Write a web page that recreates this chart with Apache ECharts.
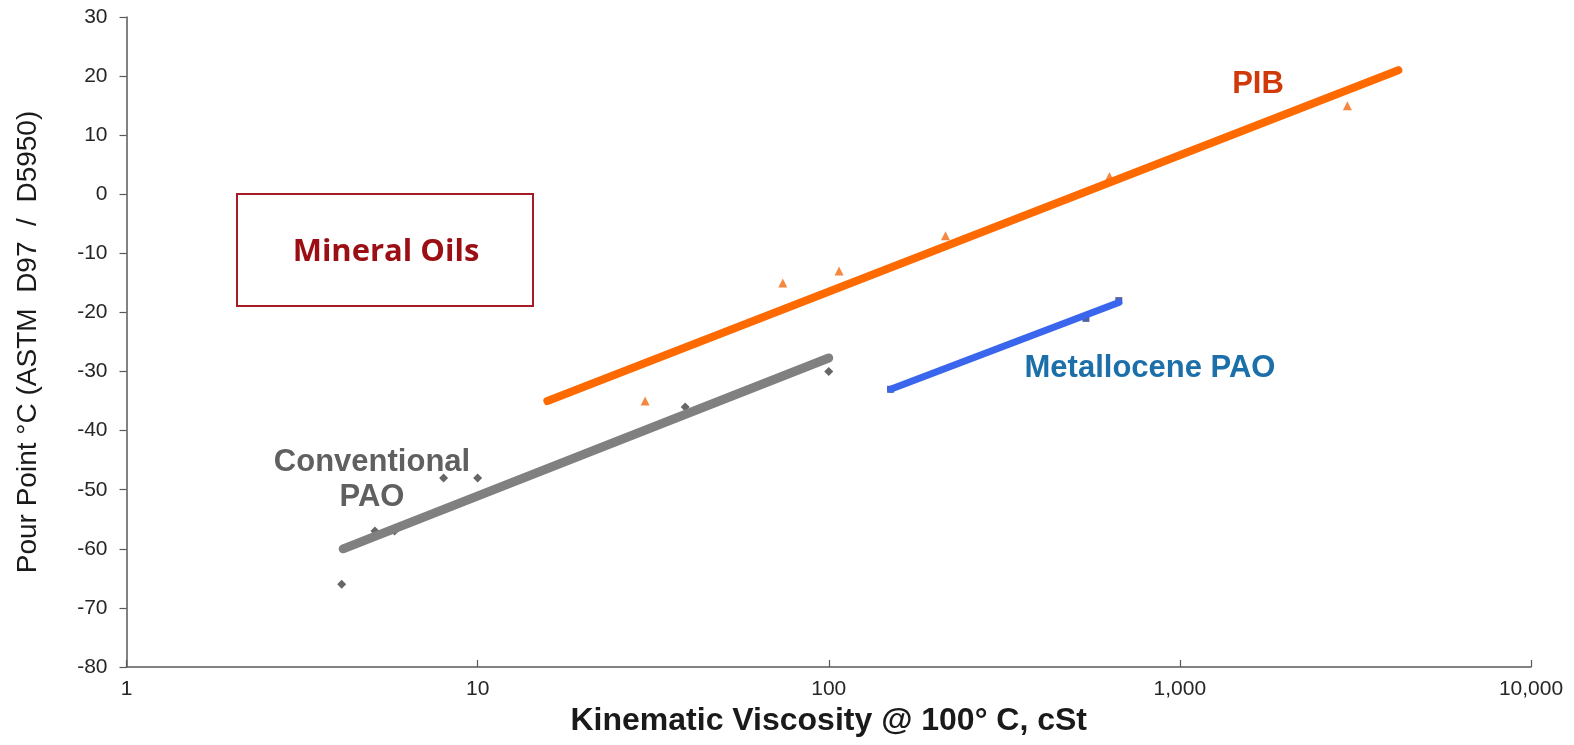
<!DOCTYPE html>
<html>
<head>
<meta charset="utf-8">
<script src="https://cdn.jsdelivr.net/npm/echarts@6/dist/echarts.min.js"></script>
<style>
html,body{margin:0;padding:0;background:#fff;}
#chart{width:1574px;height:745px;}
</style>
</head>
<body>
<div id="chart"></div>
<script>
// Data
const xTicks = [1, 10, 100, 1000, 10000];
const yTicks = [-80, -70, -60, -50, -40, -30, -20, -10, 0, 10, 20, 30];

const pibPoints = [[30, -35], [74, -15], [107, -13], [215, -7], [630, 3], [3000, 15]];
const pibTrend = [[15.8, -35], [4190, 21]];

const convPaoPoints = [[4.1, -66], [5.1, -57], [5.8, -57], [8, -48], [10, -48], [39, -36], [100, -30]];
const convPaoTrend = [[4.14, -60], [100, -27.7]];

const mPaoPoints = [[150, -33], [540, -21], [670, -18]];
const mPaoTrend = [[150, -33], [670, -18.3]];

const chart = echarts.init(document.getElementById('chart'));
const axisColor = '#595959';
const labelFont = 'Liberation Sans, Arial, sans-serif';

chart.setOption({
  backgroundColor: '#ffffff',
  animation: false,
  grid: {left: 126.5, right: 43, top: 17, bottom: 78, containLabel: false},
  xAxis: {
    type: 'log', logBase: 10, min: xTicks[0], max: xTicks[xTicks.length - 1],
    name: 'Kinematic Viscosity @ 100° C, cSt',
    nameLocation: 'middle', nameGap: 38,
    nameTextStyle: {fontFamily: labelFont, fontSize: 32, fontWeight: 'bold', color: '#1a1a1a'},
    axisLine: {show: true, onZero: false, lineStyle: {color: axisColor, width: 1.5}},
    axisTick: {show: true, inside: true, length: 7, lineStyle: {color: axisColor, width: 1.2}},
    minorTick: {show: false},
    splitLine: {show: false},
    axisLabel: {
      fontFamily: labelFont, fontSize: 21, color: '#262626', margin: 12,
      formatter: v => Math.round(v).toLocaleString('en-US')
    }
  },
  yAxis: {
    type: 'value', min: yTicks[0], max: yTicks[yTicks.length - 1], interval: 10,
    name: 'Pour Point °C (ASTM  D97  /  D5950)',
    nameLocation: 'middle', nameGap: 84, nameRotate: 90,
    nameTextStyle: {fontFamily: labelFont, fontSize: 28, color: '#1a1a1a'},
    axisLine: {show: true, onZero: false, lineStyle: {color: axisColor, width: 1.5}},
    axisTick: {show: true, inside: false, length: 7, lineStyle: {color: axisColor, width: 1.2}},
    splitLine: {show: false},
    axisLabel: {fontFamily: labelFont, fontSize: 21, color: '#262626', margin: 19}
  },
  series: [
    {type: 'scatter', name: 'PIB data', data: pibPoints, symbol: 'triangle', symbolSize: 9,
     itemStyle: {color: '#F26A10'}, z: 2},
    {type: 'scatter', name: 'Conventional PAO data', data: convPaoPoints, symbol: 'diamond', symbolSize: 9,
     itemStyle: {color: '#404040'}, z: 2},
    {type: 'scatter', name: 'mPAO data', data: mPaoPoints, symbol: 'rect', symbolSize: 7,
     itemStyle: {color: '#1F3A8A'}, z: 2},
    {type: 'line', name: 'PIB trend', data: pibTrend, showSymbol: false, symbol: 'none',
     lineStyle: {color: '#FF6A00', width: 8, cap: 'round'}, z: 3},
    {type: 'line', name: 'Conv PAO trend', data: convPaoTrend, showSymbol: false, symbol: 'none',
     lineStyle: {color: '#808080', width: 9, cap: 'round'}, z: 3},
    {type: 'line', name: 'mPAO trend', data: mPaoTrend, showSymbol: false, symbol: 'none',
     lineStyle: {color: '#3A66EE', width: 7, cap: 'round'}, z: 3}
  ],
  graphic: [
    {type: 'rect', shape: {x: 237, y: 194, width: 296, height: 112},
     style: {fill: 'none', stroke: '#A51C24', lineWidth: 2}, z: 10},
    {type: 'text', x: 386, y: 252,
     style: {text: 'Mineral Oils', fill: '#9A0E14', font: 'bold 31px "Open Sans", "Noto Sans", sans-serif',
             align: 'center', verticalAlign: 'middle'}, z: 10},
    {type: 'text', x: 1258, y: 84,
     style: {text: 'PIB', fill: '#D03A0A', font: 'bold 31px "Liberation Sans", Arial, sans-serif',
             align: 'center', verticalAlign: 'middle'}, z: 10},
    {type: 'text', x: 1150, y: 368,
     style: {text: 'Metallocene PAO', fill: '#1C6FA8', font: 'bold 31px "Liberation Sans", Arial, sans-serif',
             align: 'center', verticalAlign: 'middle'}, z: 10},
    {type: 'text', x: 372, y: 462,
     style: {text: 'Conventional', fill: '#606060', font: 'bold 31px "Liberation Sans", Arial, sans-serif',
             align: 'center', verticalAlign: 'middle'}, z: 10},
    {type: 'text', x: 372, y: 497,
     style: {text: 'PAO', fill: '#606060', font: 'bold 31px "Liberation Sans", Arial, sans-serif',
             align: 'center', verticalAlign: 'middle'}, z: 10}
  ]
});
</script>
</body>
</html>
